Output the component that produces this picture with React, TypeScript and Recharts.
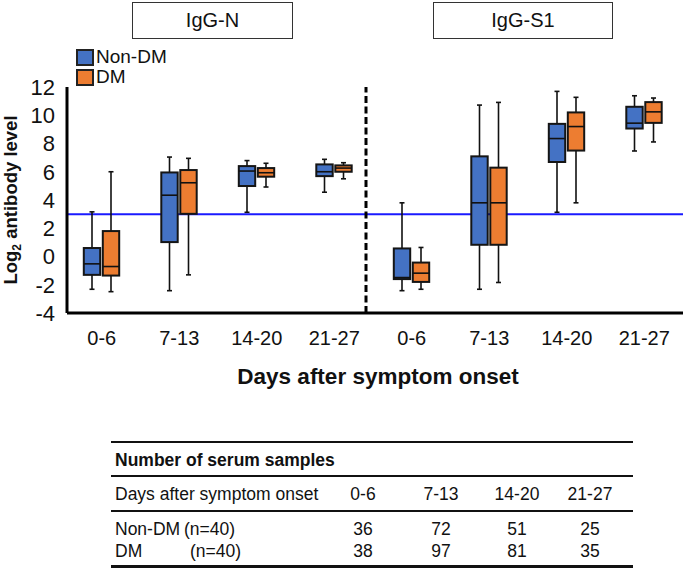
import React from "react";
import {
  BarChart,
  Bar,
  XAxis,
  YAxis,
  CartesianGrid,
  ReferenceLine,
  Legend,
} from "recharts";

const FONT = '"Liberation Sans", Arial, sans-serif';
const COLORS = { nonDm: "#4472C4", dm: "#ED7D31", cutoff: "#1a1aff" };

const antigens = ["IgG-N", "IgG-S1"];
const periods = ["0-6", "7-13", "14-20", "21-27"];
const groups = ["Non-DM", "DM"];
const yDomain = [-4, 12];
const yTicks = [-4, -2, 0, 2, 4, 6, 8, 10, 12];
const cutoff = 3;

// 8 boxes per series: IgG-N 0-6..21-27, then IgG-S1 0-6..21-27
const nonDmMin = [-2.32, -2.42, 3.13, 4.55, -2.42, -2.32, 3.13, 7.47];
const nonDmQ1 = [-1.3, 1.02, 4.99, 5.69, -1.6, 0.83, 6.69, 9.06];
const nonDmMedian = [-0.52, 4.34, 6.05, 6.0, -1.49, 3.8, 8.35, 9.44];
const nonDmQ3 = [0.6, 5.95, 6.4, 6.52, 0.57, 7.09, 9.39, 10.6];
const nonDmMax = [3.16, 7.04, 6.79, 6.88, 3.8, 10.72, 11.69, 11.38];

const dmMin = [-2.49, -1.3, 4.92, 5.5, -2.32, -1.84, 3.8, 8.11];
const dmQ1 = [-1.35, 3.02, 5.65, 6.0, -1.8, 0.83, 7.5, 9.46];
const dmMedian = [-0.71, 5.22, 5.93, 6.26, -1.18, 3.8, 9.2, 10.24];
const dmQ3 = [1.8, 6.12, 6.26, 6.45, -0.43, 6.29, 10.2, 10.93];
const dmMax = [6.0, 6.95, 6.6, 6.64, 0.64, 10.91, 11.27, 11.22];

// serum sample table
const nonDmCounts = [36, 72, 51, 25];
const dmCounts = [38, 97, 81, 35];

type Stats = { min: number; q1: number; med: number; q3: number; max: number };

const categories = antigens.flatMap((a) => periods.map((p) => `${a}|${p}`));

const chartData = categories.map((key, i) => {
  const nonDmStats: Stats = {
    min: nonDmMin[i],
    q1: nonDmQ1[i],
    med: nonDmMedian[i],
    q3: nonDmQ3[i],
    max: nonDmMax[i],
  };
  const dmStats: Stats = {
    min: dmMin[i],
    q1: dmQ1[i],
    med: dmMedian[i],
    q3: dmQ3[i],
    max: dmMax[i],
  };
  return {
    key,
    nonDm: [nonDmMin[i], nonDmMax[i]],
    dm: [dmMin[i], dmMax[i]],
    nonDmStats,
    dmStats,
  };
});

function BoxShape(props: any) {
  const { x, y, width, height, payload, statsKey, color } = props;
  const s: Stats = payload[statsKey];
  const h = Math.abs(height);
  const top = height >= 0 ? y : y + height;
  const k = h / (s.max - s.min);
  const py = (v: number) => top + (s.max - v) * k;
  const cx = x + width / 2;
  const ln = { stroke: "#111", strokeWidth: 1.6 };
  return (
    <g>
      <line x1={cx} x2={cx} y1={py(s.max)} y2={py(s.q3)} {...ln} />
      <line x1={cx} x2={cx} y1={py(s.q1)} y2={py(s.min)} {...ln} />
      <line x1={cx - 2.5} x2={cx + 2.5} y1={py(s.max)} y2={py(s.max)} {...ln} />
      <line x1={cx - 2.5} x2={cx + 2.5} y1={py(s.min)} y2={py(s.min)} {...ln} />
      <rect
        x={x + 0.8}
        y={py(s.q3)}
        width={width - 1.6}
        height={Math.max(py(s.q1) - py(s.q3), 0.5)}
        fill={color}
        stroke="#151515"
        strokeWidth={2}
      />
      <line x1={x + 0.8} x2={x + width - 0.8} y1={py(s.med)} y2={py(s.med)} {...ln} />
    </g>
  );
}

function LegendContent({ payload }: any) {
  const items = [...(payload || [])].sort(
    (a: any, b: any) => groups.indexOf(a.value) - groups.indexOf(b.value)
  );
  return (
    <div style={{ fontFamily: FONT }}>
      {items.map((entry: any) => (
        <div
          key={entry.value}
          style={{ display: "flex", alignItems: "center", height: 20 }}
        >
          <span
            style={{
              display: "inline-block",
              width: 18,
              height: 17,
              boxSizing: "border-box",
              border: "2px solid #222",
              background: entry.color,
              marginRight: 2,
            }}
          />
          <span style={{ fontSize: 19, color: "#111" }}>{entry.value}</span>
        </div>
      ))}
    </div>
  );
}

function YLabel({ viewBox }: any) {
  const cx = 17;
  const cy = viewBox.y + viewBox.height / 2;
  return (
    <text
      x={cx}
      y={cy}
      transform={`rotate(-90, ${cx}, ${cy})`}
      textAnchor="middle"
      fontFamily={FONT}
      fontWeight="bold"
      fontSize={18.5}
      fill="#111"
    >
      <tspan>Log</tspan>
      <tspan fontSize={12} dy={4}>
        2
      </tspan>
      <tspan dy={-4}> antibody level</tspan>
    </text>
  );
}

function XLabel({ viewBox }: any) {
  return (
    <text
      x={viewBox.x + viewBox.width / 2 + 3}
      y={viewBox.y + 71}
      textAnchor="middle"
      fontFamily={FONT}
      fontWeight="bold"
      fontSize={22.5}
      fill="#111"
    >
      Days after symptom onset
    </text>
  );
}

// cutoff drawn as a grid line so it sits behind the boxes
const cutoffCoords = ({ yAxis, offset }: any) => {
  if (yAxis && typeof yAxis.scale === "function") return [yAxis.scale(cutoff)];
  const frac = (yDomain[1] - cutoff) / (yDomain[1] - yDomain[0]);
  return [offset.top + frac * offset.height];
};

// divider between the two antigen panels, nudged left of the band edge
function Divider(props: any) {
  const { x1, x2, y1, y2 } = props;
  return (
    <line
      x1={x1 - 7}
      x2={x2 - 7}
      y1={y1}
      y2={y2}
      stroke="#000"
      strokeWidth={3}
      strokeDasharray="7 3.5"
    />
  );
}

function TitleBox({ text, left, width }: { text: string; left: number; width: number }) {
  return (
    <div
      style={{
        position: "absolute",
        left,
        top: 2,
        width,
        height: 37,
        boxSizing: "border-box",
        border: "1.5px solid #333",
        fontSize: 20,
        lineHeight: "34px",
        textAlign: "center",
        color: "#111",
      }}
    >
      {text}
    </div>
  );
}

const colCenters = [363, 441, 517, 590];

function Cell({
  children,
  left,
  cy,
  center,
  bold,
}: {
  children: React.ReactNode;
  left: number;
  cy: number;
  center?: boolean;
  bold?: boolean;
}) {
  return (
    <div
      style={{
        position: "absolute",
        left: center ? left - 40 : left,
        width: center ? 80 : undefined,
        top: cy - 11,
        height: 22,
        lineHeight: "22px",
        fontSize: 17.5,
        fontWeight: bold ? "bold" : "normal",
        textAlign: center ? "center" : "left",
        whiteSpace: "nowrap",
        color: "#111",
      }}
    >
      {children}
    </div>
  );
}

function Rule({ top, h }: { top: number; h: number }) {
  return (
    <div
      style={{
        position: "absolute",
        left: 111,
        width: 522,
        top,
        height: h,
        background: "#111",
      }}
    />
  );
}

export default function App() {
  return (
    <div
      style={{
        position: "absolute",
        left: 0,
        top: 0,
        width: 685,
        height: 570,
        fontFamily: FONT,
        background: "#fff",
      }}
    >
      <BarChart
        width={685}
        height={400}
        data={chartData}
        margin={{ top: 87, right: 2, left: 0, bottom: 27 }}
        barSize={18}
        barGap={1}
        style={{ position: "absolute", left: 0, top: 0 }}
      >
        <CartesianGrid
          vertical={false}
          horizontalCoordinatesGenerator={cutoffCoords}
          stroke={COLORS.cutoff}
          strokeWidth={2}
          strokeDasharray=""
        />
        <XAxis
          dataKey="key"
          height={60}
          padding={{ left: -4, right: 0 }}
          tickFormatter={(v: string) => v.split("|")[1]}
          tick={{ fontSize: 20, fill: "#111", fontFamily: FONT }}
          tickLine={false}
          tickSize={0}
          tickMargin={18}
          interval={0}
          axisLine={{ stroke: "#000", strokeWidth: 3 }}
          label={<XLabel />}
        />
        <YAxis
          width={67}
          domain={yDomain}
          ticks={yTicks}
          interval={0}
          tick={{ fontSize: 22, fill: "#111", fontFamily: FONT }}
          tickLine={false}
          tickSize={0}
          tickMargin={12}
          axisLine={{ stroke: "#000", strokeWidth: 3 }}
          label={<YLabel />}
        />
        <ReferenceLine
          x={`${antigens[0]}|${periods[3]}`}
          position="end"
          stroke="#000"
          strokeWidth={3}
          strokeDasharray="7 3.5"
          shape={<Divider />}
        />
        <Legend
          layout="vertical"
          align="center"
          verticalAlign="middle"
          wrapperStyle={{ left: 76, top: 47, width: 120 }}
          content={<LegendContent />}
        />
        <Bar
          dataKey="nonDm"
          name={groups[0]}
          fill={COLORS.nonDm}
          isAnimationActive={false}
          shape={(p: any) => (
            <BoxShape {...p} statsKey="nonDmStats" color={COLORS.nonDm} />
          )}
        />
        <Bar
          dataKey="dm"
          name={groups[1]}
          fill={COLORS.dm}
          isAnimationActive={false}
          shape={(p: any) => (
            <BoxShape {...p} statsKey="dmStats" color={COLORS.dm} />
          )}
        />
      </BarChart>

      <TitleBox text={antigens[0]} left={132} width={161} />
      <TitleBox text={antigens[1]} left={433} width={180} />

      <Rule top={441} h={2} />
      <Cell left={115} cy={460} bold>
        Number of serum samples
      </Cell>
      <Rule top={475} h={2} />
      <Cell left={115} cy={494}>
        Days after symptom onset
      </Cell>
      {periods.map((p, i) => (
        <Cell key={p} left={colCenters[i]} cy={494} center>
          {p}
        </Cell>
      ))}
      <Rule top={510} h={1.5} />
      <Cell left={115} cy={529}>
        {groups[0]}
      </Cell>
      <Cell left={184} cy={529}>
        (n=40)
      </Cell>
      {nonDmCounts.map((n, i) => (
        <Cell key={`n${i}`} left={colCenters[i]} cy={529} center>
          {n}
        </Cell>
      ))}
      <Cell left={115} cy={551}>
        {groups[1]}
      </Cell>
      <Cell left={190} cy={551}>
        (n=40)
      </Cell>
      {dmCounts.map((n, i) => (
        <Cell key={`d${i}`} left={colCenters[i]} cy={551} center>
          {n}
        </Cell>
      ))}
      <Rule top={565} h={2.5} />
    </div>
  );
}
